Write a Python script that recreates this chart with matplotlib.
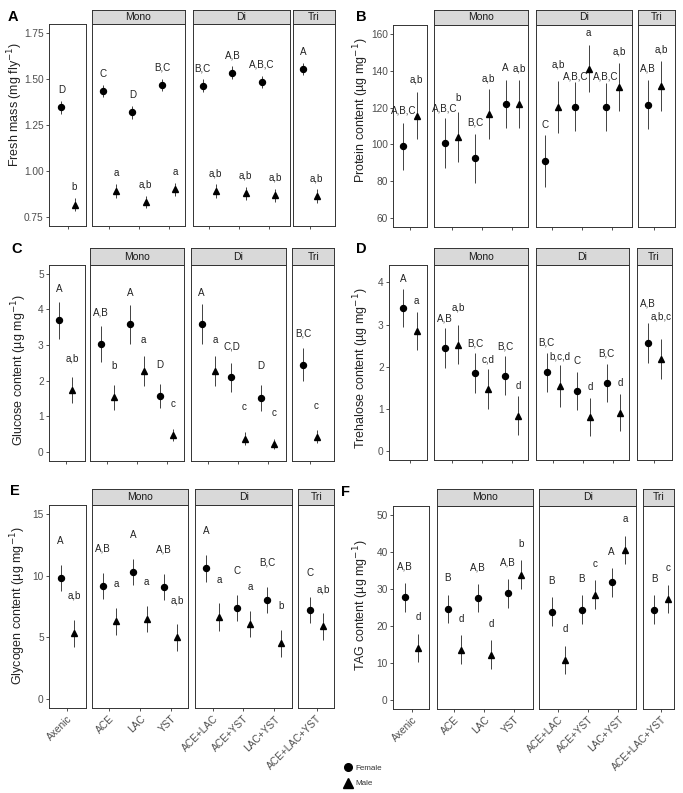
import matplotlib
matplotlib.use("Agg")
import matplotlib.pyplot as plt
from matplotlib.lines import Line2D
import numpy as np

plt.rcParams['font.family'] = ['Liberation Sans', 'DejaVu Sans']

# ---------------- data ----------------
groups = ['', 'Mono', 'Di', 'Tri']
group_cats = [['Axenic'], ['ACE', 'LAC', 'YST'],
              ['ACE+LAC', 'ACE+YST', 'LAC+YST'], ['ACE+LAC+YST']]

# order: Axenic, ACE, LAC, YST, ACE+LAC, ACE+YST, LAC+YST, ACE+LAC+YST
mass_f = [1.347, 1.435, 1.320, 1.468, 1.464, 1.535, 1.484, 1.555]
mass_f_se = [0.035, 0.035, 0.035, 0.035, 0.035, 0.035, 0.035, 0.035]
mass_m = [0.817, 0.891, 0.831, 0.900, 0.889, 0.878, 0.868, 0.864]
mass_m_se = [0.035, 0.037, 0.035, 0.035, 0.037, 0.035, 0.035, 0.037]
mass_f_lab = ['D', 'C', 'D', 'B,C', 'B,C', 'A,B', 'A,B,C', 'A']
mass_m_lab = ['b', 'a', 'a,b', 'a', 'a,b', 'a,b', 'a,b', 'a,b']

prot_f = [99.1, 100.9, 92.4, 122.0, 91.0, 120.4, 120.2, 121.6]
prot_f_se = [12.8, 13.5, 13.5, 13.0, 14.0, 13.3, 13.0, 13.5]
prot_m = [115.7, 104.0, 116.6, 122.0, 120.4, 141.1, 131.2, 131.9]
prot_m_se = [12.8, 13.5, 13.5, 13.0, 14.0, 12.8, 12.9, 13.5]
prot_f_lab = ['A,B,C', 'A,B,C', 'B,C', 'A', 'C', 'A,B,C', 'A,B,C', 'A,B']
prot_m_lab = ['a,b', 'b', 'a,b', 'a,b', 'a,b', 'a', 'a,b', 'a,b']

gluc_f = [3.70, 3.03, 3.58, 1.57, 3.59, 2.09, 1.52, 2.45]
gluc_f_se = [0.52, 0.51, 0.55, 0.34, 0.55, 0.40, 0.36, 0.46]
gluc_m = [1.73, 1.53, 2.27, 0.47, 2.26, 0.37, 0.22, 0.42]
gluc_m_se = [0.37, 0.35, 0.42, 0.18, 0.42, 0.18, 0.14, 0.18]
gluc_f_lab = ['A', 'A,B', 'A', 'D', 'A', 'C,D', 'D', 'B,C']
gluc_m_lab = ['a,b', 'b', 'a', 'c', 'a', 'c', 'c', 'c']

treh_f = [3.39, 2.44, 1.85, 1.79, 1.87, 1.43, 1.61, 2.56]
treh_f_se = [0.45, 0.47, 0.47, 0.46, 0.46, 0.45, 0.45, 0.47]
treh_m = [2.85, 2.52, 1.48, 0.84, 1.54, 0.81, 0.91, 2.19]
treh_m_se = [0.45, 0.46, 0.47, 0.46, 0.50, 0.44, 0.44, 0.47]
treh_f_lab = ['A', 'A,B', 'B,C', 'B,C', 'B,C', 'C', 'B,C', 'A,B']
treh_m_lab = ['a', 'a,b', 'c,d', 'd', 'b,c,d', 'd', 'd', 'a,b,c']

glyc_f = [9.81, 9.19, 10.30, 9.08, 10.62, 7.38, 8.05, 7.24]
glyc_f_se = [1.08, 1.08, 1.08, 1.08, 1.10, 1.08, 1.08, 1.06]
glyc_m = [5.35, 6.30, 6.49, 5.00, 6.65, 6.08, 4.54, 5.89]
glyc_m_se = [1.10, 1.08, 1.08, 1.08, 1.12, 1.05, 1.10, 1.07]
glyc_f_lab = ['A', 'A,B', 'A', 'A,B', 'A', 'C', 'B,C', 'C']
glyc_m_lab = ['a,b', 'a', 'a', 'a,b', 'a', 'a', 'b', 'a,b']

tag_f = [27.8, 24.6, 27.55, 28.8, 23.9, 24.4, 31.8, 24.4]
tag_f_se = [3.9, 3.9, 3.9, 3.9, 3.9, 3.9, 3.9, 3.9]
tag_m = [14.0, 13.55, 12.2, 33.9, 10.8, 28.5, 40.6, 27.3]
tag_m_se = [3.9, 3.9, 3.9, 3.9, 3.9, 3.9, 3.9, 3.9]
tag_f_lab = ['A,B', 'B', 'A,B', 'A,B', 'B', 'B', 'A', 'B']
tag_m_lab = ['d', 'd', 'd', 'b', 'd', 'c', 'a', 'c']

# ---------------- layout ----------------
W, H = 683, 793
fig = plt.figure(figsize=(W / 100, H / 100), dpi=100)

DARK = '#333333'
TXT = '#4D4D4D'
FS_TICK = 7.3
FS_STRIP = 7.5
FS_LAB = 7.1
FS_YLAB = 9.0


def fax(l, r, t, b):
    return fig.add_axes([l / W, 1 - b / H, (r - l) / W, (b - t) / H])


panels = [
    dict(letter='A', lpos=(13, 17), f=(mass_f, mass_f_se, mass_f_lab), m=(mass_m, mass_m_se, mass_m_lab),
         boxes=[(49.3, 86), (92, 185), (193, 290), (293, 335)], t0=[68, 109.3, 209.3, 310], u=29.7,
         strip=(9.5, 24), plot=(24, 226), ylim=(0.70, 1.80), yticks=[0.75, 1.00, 1.25, 1.50, 1.75],
         yfmt='{:.2f}', ylabel='Fresh mass (mg fly$^{-1}$)', ylpos=(15.5, 104), off=0.095, nudge={}),
    dict(letter='B', lpos=(361, 17), f=(prot_f, prot_f_se, prot_f_lab), m=(prot_m, prot_m_se, prot_m_lab),
         boxes=[(393.3, 427.3), (434.3, 528.3), (535.7, 632.3), (637.7, 675)], t0=[410, 451.7, 551.7, 654.3], u=30.3,
         strip=(9.5, 25), plot=(25, 227), ylim=(55, 165), yticks=[60, 80, 100, 120, 140, 160],
         yfmt='{:.0f}', ylabel='Protein content (µg mg$^{-1}$)', ylpos=(361, 110), off=19.5,
         nudge={('m', 1): 1.5, ('f', 1): -0.8, ('m', 4): 3.5, ('f', 5): -3.0, ('f', 6): -2.5}),
    dict(letter='C', lpos=(17, 249), f=(gluc_f, gluc_f_se, gluc_f_lab), m=(gluc_m, gluc_m_se, gluc_m_lab),
         boxes=[(49.3, 85), (90, 184.3), (190.7, 285.7), (292.3, 334.3)], t0=[65.7, 107.3, 208.3, 310], u=29.7,
         strip=(248.3, 265), plot=(265, 460.7), ylim=(-0.25, 5.25), yticks=[0, 1, 2, 3, 4, 5],
         yfmt='{:.0f}', ylabel='Glucose content (µg mg$^{-1}$)', ylpos=(19.5, 370), off=0.88, nudge={}),
    dict(letter='D', lpos=(361, 249), f=(treh_f, treh_f_se, treh_f_lab), m=(treh_m, treh_m_se, treh_m_lab),
         boxes=[(389.3, 427.3), (434.3, 528.3), (535.7, 629.3), (636.7, 671.7)], t0=[410, 451.7, 553.3, 654.3], u=30,
         strip=(248, 265), plot=(265, 460), ylim=(-0.21, 4.41), yticks=[0, 1, 2, 3, 4],
         yfmt='{:.0f}', ylabel='Trehalose content (µg mg$^{-1}$)', ylpos=(361.5, 368), off=0.70,
         nudge={('m', 1): 0.18, ('f', 7): 0.24, ('m', 7): 0.31}),
    dict(letter='E', lpos=(15, 491), f=(glyc_f, glyc_f_se, glyc_f_lab), m=(glyc_m, glyc_m_se, glyc_m_lab),
         boxes=[(49.3, 85.7), (91.7, 188.3), (195, 292.3), (298.3, 334.3)], t0=[67.3, 109.3, 212.7, 316.7], u=30.7,
         strip=(489, 505), plot=(505, 708.3), ylim=(-0.75, 15.75), yticks=[0, 5, 10, 15],
         yfmt='{:.0f}', ylabel='Glycogen content (µg mg$^{-1}$)', ylpos=(18, 606), off=3.03, nudge={},
         xlabels=True),
    dict(letter='F', lpos=(346, 492), f=(tag_f, tag_f_se, tag_f_lab), m=(tag_m, tag_m_se, tag_m_lab),
         boxes=[(393.3, 429.3), (436.7, 533.3), (539.3, 636), (642.7, 674.3)], t0=[411.7, 454.3, 558.3, 661], u=30,
         strip=(489, 506), plot=(506, 709), ylim=(-2.5, 52.5), yticks=[0, 10, 20, 30, 40, 50],
         yfmt='{:.0f}', ylabel='TAG content (µg mg$^{-1}$)', ylpos=(361.5, 605), off=8.3, nudge={},
         xlabels=True),
]

DODGE = 0.22

for p in panels:
    idx = 0
    ptop, pbot = p['plot']
    for gi, (grp, cats) in enumerate(zip(groups, group_cats)):
        l, r = p['boxes'][gi]
        ax = fax(l, r, ptop, pbot)
        u = p['u']
        t0 = p['t0'][gi]
        ax.set_xlim((l - t0) / u, (r - t0) / u)
        ax.set_ylim(*p['ylim'])
        n = len(cats)
        xs = np.arange(n)
        sl = slice(idx, idx + n)
        for sex, mk, ms, sign in (('f', 'o', 4.3, -1), ('m', '^', 5.0, 1)):
            vals, ses, labs = p[sex]
            v = np.array(vals[sl]); s = np.array(ses[sl])
            xx = xs + sign * DODGE
            ax.errorbar(xx, v, yerr=s, fmt='none', ecolor=DARK, elinewidth=0.65, capsize=0, zorder=2)
            ax.plot(xx, v, linestyle='none', marker=mk, ms=ms, color='black', zorder=3)
            for k in range(n):
                extra = p['nudge'].get((sex, idx + k), 0)
                ax.text(xx[k], v[k] + p['off'] + extra, labs[idx + k], ha='center', va='center',
                        fontsize=FS_LAB, color='#222222', clip_on=False)
        idx += n
        for sp in ax.spines.values():
            sp.set_color(DARK); sp.set_linewidth(0.7)
        ax.set_xticks(xs)
        if p.get('xlabels'):
            ax.set_xticklabels(cats, rotation=45, ha='right', rotation_mode='anchor',
                               fontsize=FS_TICK, color=TXT)
        else:
            ax.set_xticklabels([])
        ax.tick_params(axis='both', length=2.5, width=0.6, color=DARK, pad=1.5)
        ax.set_yticks(p['yticks'])
        if gi == 0:
            ax.set_yticklabels([p['yfmt'].format(t) for t in p['yticks']], fontsize=FS_TICK, color=TXT)
        else:
            ax.tick_params(axis='y', left=False, labelleft=False)
        if grp:
            st, sb = p['strip']
            sax = fax(l, r, st, sb)
            sax.set_facecolor('#D9D9D9')
            sax.set_xticks([]); sax.set_yticks([])
            for sp in sax.spines.values():
                sp.set_color(DARK); sp.set_linewidth(0.7)
            sax.text(0.5, 0.5, grp, ha='center', va='center', fontsize=FS_STRIP, color='#1A1A1A',
                     transform=sax.transAxes)
    fig.text(p['ylpos'][0] / W, 1 - p['ylpos'][1] / H, p['ylabel'], rotation=90,
             ha='center', va='center', fontsize=FS_YLAB, color='#222222')
    fig.text(p['lpos'][0] / W, 1 - p['lpos'][1] / H, p['letter'], ha='center', va='center',
             fontsize=10.5, fontweight='bold', color='black')

# legend
handles = [Line2D([], [], linestyle='none', marker='o', ms=5.5, color='black'),
           Line2D([], [], linestyle='none', marker='^', ms=6.5, color='black')]
fig.legend(handles, ['Female', 'Male'], loc='upper left', bbox_to_anchor=(344 / W, 1 - 764 / H),
           frameon=False, fontsize=5.8, labelcolor='#333333', handletextpad=0.4,
           labelspacing=1.0, borderaxespad=0, borderpad=0, handlelength=1.0)

fig.savefig('out.png', dpi=100)
